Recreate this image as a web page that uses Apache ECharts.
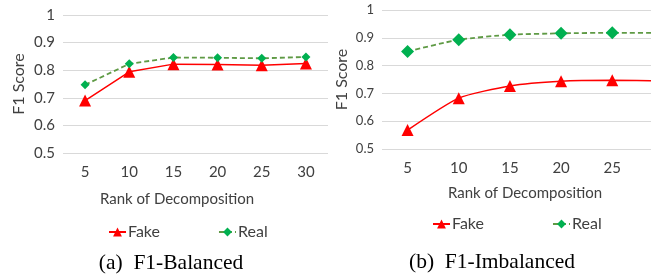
<!DOCTYPE html>
<html><head><meta charset="utf-8">
<script src="https://cdn.jsdelivr.net/npm/echarts@6/dist/echarts.min.js"></script>
<style>html,body{margin:0;padding:0;background:#fff;overflow:hidden}#c{width:700px;height:280px}</style>
</head><body><div id="c"></div>
<script>
// Left chart (a) F1-Balanced
const ranksA = ['5','10','15','20','25','30'];
const fakeA = [0.69, 0.794, 0.822, 0.821, 0.818, 0.824];
const realA = [0.747, 0.823, 0.846, 0.845, 0.843, 0.848];
// Right chart (b) F1-Imbalanced (last category lies beyond the cropped edge)
const ranksB = ['5','10','15','20','25','30'];
const fakeB = [0.568, 0.683, 0.727, 0.744, 0.747, 0.745];
const realB = [0.851, 0.893, 0.911, 0.916, 0.918, 0.918];
const yTicks = [0.5, 0.6, 0.7, 0.8, 0.9, 1];

const chart = echarts.init(document.getElementById('c'), null, {renderer:'canvas'});
const lblFont = 'Lato, "Open Sans", sans-serif';
const txt = '#404040';
function yAxis(gi, fs, gap){
  return {gridIndex:gi, type:'value', min:yTicks[0], max:yTicks[yTicks.length-1], interval:0.1,
    axisLine:{show:false}, axisTick:{show:false},
    axisLabel:{fontSize:fs, color:txt, fontFamily:lblFont, margin:8, formatter:v=>String(+v.toFixed(1))},
    splitLine:{lineStyle:{color:'#d9d9d9', width:1}},
    name:'F1 Score', nameLocation:'middle', nameRotate:90, nameGap:gap,
    nameTextStyle:{fontSize:16, color:txt, fontFamily:lblFont}};
}
function xAxis(gi, cats){
  return {gridIndex:gi, type:'category', data:cats, boundaryGap:true,
    axisLine:{show:false}, axisTick:{show:false},
    axisLabel:{fontSize:15, color:txt, fontFamily:lblFont, margin:12, interval:0}};
}
function fake(gi, data, smooth, size){
  return {name:'Fake', type:'line', xAxisIndex:gi, yAxisIndex:gi, data:data, smooth:smooth,
    symbol:'triangle', symbolSize:size, itemStyle:{color:'#ff0000'},
    lineStyle:{color:'#ff0000', width:1.5}};
}
function real(gi, data, smooth, size){
  return {name:'Real', type:'line', xAxisIndex:gi, yAxisIndex:gi, data:data, smooth:smooth,
    symbol:'diamond', symbolSize:size, itemStyle:{color:'#00b050'},
    lineStyle:{color:'#5f9a45', width:1.8, type:[5,3]}};
}
chart.setOption({
  animation:false,
  textStyle:{fontFamily:lblFont},
  grid:[
    {left:63, top:15, width:265, height:138},
    {left:382, top:10, width:307, height:139}
  ],
  xAxis:[xAxis(0, ranksA), xAxis(1, ranksB)],
  yAxis:[yAxis(0, 15, 36), yAxis(1, 13, 32)],
  legend:[
    {left:103, top:219, itemWidth:17, itemHeight:11, itemGap:58, data:['Fake','Real'],
      textStyle:{fontSize:16, color:txt, fontFamily:lblFont, padding:[0,0,0,-3]}, selectedMode:false},
    {left:427, top:211, itemWidth:17, itemHeight:11, itemGap:68, data:['Fake','Real'],
      textStyle:{fontSize:16, color:txt, fontFamily:lblFont, padding:[0,0,0,-3]}, selectedMode:false}
  ],
  series:[
    fake(0, fakeA, false, 12), real(0, realA, false, 9),
    fake(1, fakeB, 0.2, 12), real(1, realB, 0.2, 13)
  ],
  graphic:[
    {type:'text', x:177, y:199, style:{text:'Rank of Decomposition', fill:txt, font:'15px '+lblFont, align:'center', verticalAlign:'middle'}},
    {type:'text', x:525, y:193, style:{text:'Rank of Decomposition', fill:txt, font:'15px '+lblFont, align:'center', verticalAlign:'middle'}},
    {type:'text', x:171, y:263, style:{text:'(a)  F1-Balanced', fill:'#000', font:'21.5px "Liberation Serif", "DejaVu Serif", serif', align:'center', verticalAlign:'middle'}},
    {type:'text', x:492, y:262, style:{text:'(b)  F1-Imbalanced', fill:'#000', font:'21.5px "Liberation Serif", "DejaVu Serif", serif', align:'center', verticalAlign:'middle'}}
  ]
});
</script></body></html>
